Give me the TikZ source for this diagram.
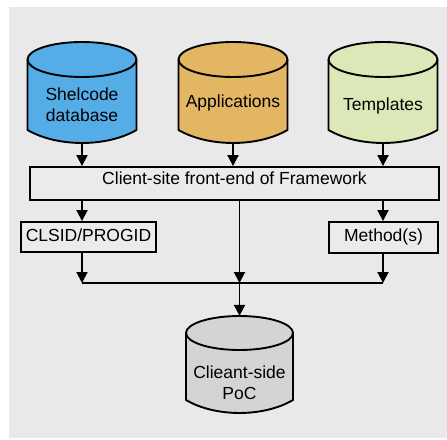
\documentclass[tikz,border=0pt]{standalone}
\usepackage{fontspec}
\setmainfont{Liberation Sans}
\usetikzlibrary{arrows.meta}

\definecolor{panel}{HTML}{E9E9E9}
\definecolor{boxfill}{HTML}{EBEBEB}
\definecolor{dbBlue}{HTML}{55ADE8}
\definecolor{dbOrange}{HTML}{E2B662}
\definecolor{dbGreen}{HTML}{DDE8B9}
\definecolor{dbGray}{HTML}{D4D4D4}

% text block shifted vertically by #1 (positive = down), keeping its size
\newcommand\shifted[2]{\raisebox{-#1pt}[\height][\depth]{\begin{tabular}{@{}c@{}}#2\end{tabular}}}

% cylinder outline: centre x, top y, height to bottom, x radius, y radius, fill
\newcommand\dbshape[6]{%
  \begin{scope}[shift={(#1,#2)}]
    \filldraw[outline, fill=#6] (-#4,#5) -- (-#4,#3-13)
      .. controls (-0.45*#4,#3+4.3) and (0.45*#4,#3+4.3) .. (#4,#3-13)
      -- (#4,#5) arc[start angle=0, end angle=180, x radius=#4pt, y radius=#5pt] -- cycle;
    \draw[outline] (-#4,#5) arc[start angle=180, end angle=360, x radius=#4pt, y radius=#5pt];
  \end{scope}}

\tikzset{
  outline/.style={draw=black, line width=1.9pt, line join=round},
  txt/.style={font=\fontsize{17.5}{21}\selectfont, text=black},
  cylnode/.style={txt, shape=rectangle, inner sep=0pt},
  stepbox/.style={txt, draw=black, line width=1.9pt, fill=boxfill, inner sep=0pt},
  flow/.style={line width=1.9pt, -{Triangle[width=11pt,length=11pt]}},
  joinline/.style={line width=1.9pt},
}

\begin{document}
\begin{tikzpicture}[x=1pt, y=-1pt]
  \useasboundingbox (0,0) rectangle (447,439);
  \fill[panel] (9,7) rectangle (447,438);

  % data sources
  \dbshape{82}{42}{101}{54.5}{17.5}{dbBlue}
  \node[cylnode, minimum width=109pt, minimum height=101pt] (shel) at (82,92.5)
    {\shifted{14}{Shelcode\\database}};

  \dbshape{233}{42}{101}{54.5}{17.5}{dbOrange}
  \node[cylnode, minimum width=109pt, minimum height=101pt] (apps) at (233,92.5)
    {\shifted{11}{Applications}};

  \dbshape{383}{42}{101}{54.5}{17.5}{dbGreen}
  \node[cylnode, minimum width=109pt, minimum height=101pt] (tmpl) at (383,92.5)
    {\shifted{13.5}{Templates}};

  % processing boxes
  \node[stepbox, minimum width=409pt, minimum height=33pt] (front) at (234.5,183.5)
    {\shifted{-3}{Client-site front-end of Framework}};
  \node[stepbox, minimum width=135pt, minimum height=30pt] (clsid) at (88.5,237)
    {\shifted{0}{CLSID/PROGID}};
  \node[stepbox, minimum width=109pt, minimum height=31pt] (meth) at (383.5,237.5)
    {\shifted{0}{Method(s)}};

  % result
  \dbshape{239.5}{316}{97}{53.5}{17}{dbGray}
  \node[cylnode, minimum width=107pt, minimum height=97pt] (poc) at (239.5,364.5)
    {\shifted{20}{Clieant-side\\PoC}};

  \coordinate (join) at (239.5,283);

  % connectors
  \draw[flow] (shel.south) -- (front.north -| shel.south);
  \draw[flow] (apps.south) -- (front.north -| apps.south);
  \draw[flow] (tmpl.south) -- (front.north -| tmpl.south);

  \draw[flow] (front.south -| shel.south) -- (clsid.north -| shel.south);
  \draw[flow] (front.south -| tmpl.south) -- (meth.north -| tmpl.south);

  \draw[flow] (clsid.south -| shel.south) -- (join -| shel.south);
  \draw[flow] (meth.south -| tmpl.south) -- (join -| tmpl.south);
  \draw[flow] (front.south -| join) -- (join);
  \draw[joinline] (join -| shel.south) -- (join -| tmpl.south);

  \draw[flow] (join) -- (poc.north);
\end{tikzpicture}
\end{document}
